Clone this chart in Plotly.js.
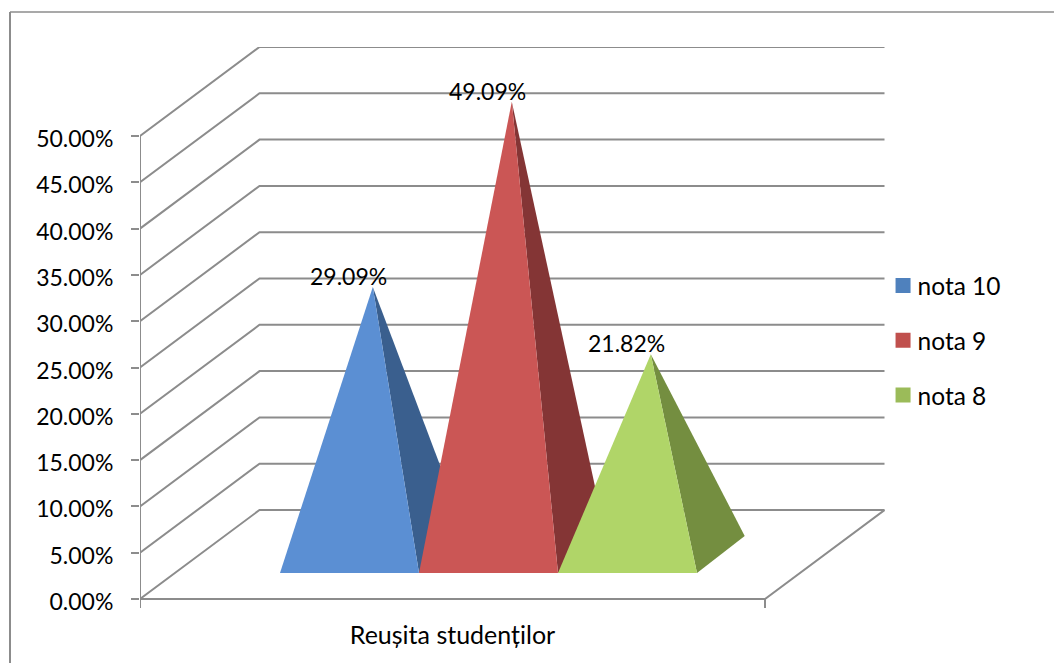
<!DOCTYPE html>
<html>
<head>
<meta charset="utf-8">
<script src="https://cdn.plot.ly/plotly-3.0.1.min.js"></script>
<style>html,body{margin:0;padding:0;background:#fff}#chart{width:1054px;height:663px}</style>
</head>
<body>
<div id="chart"></div>
<script>
// Data
const category = "Reușita studenților";
const seriesNames = ["nota 10", "nota 9", "nota 8"];
const seriesValues = [29.09, 49.09, 21.82];
const gridValues = [0, 5, 10, 15, 20, 25, 30, 35, 40, 45, 50];
const tickLabels = ["0.00%", "5.00%", "10.00%", "15.00%", "20.00%", "25.00%", "30.00%", "35.00%", "40.00%", "45.00%", "50.00%"];

// Styles
const legendColors = ["#4F81BD", "#C0504D", "#9BBB59"];
const frontColors = ["#5B8FD3", "#CB5655", "#B0D568"];
const sideColors = ["#3A5F8E", "#843535", "#748E40"];
const gridColor = "#8C8C8C";
const fontFamily = "Lato, 'Open Sans', sans-serif";
const numberSize = 23, legendSize = 24.5, categorySize = 25;

// Oblique projection of the 3D box (x: projection units, y: percent)
const floorWidth = 625, wallDx = 119.5, wallDy = 9.61;
const baseLeft = 140, baseWidth = 139, baseFrontY = 2.81, baseDx = 47.7, baseDy = 4.0, apexDx = 23.3, apexDy = 1.8;

const traces = [];
// grid: side wall + back wall lines
const gx = [], gy = [];
gridValues.forEach(v => {
  gx.push(0, wallDx, floorWidth + wallDx, null);
  gy.push(v, v + wallDy, v + wallDy, null);
});
// floor, axis and tick stubs
gx.push(0, floorWidth, floorWidth + wallDx, null, 0, 0, null, floorWidth, floorWidth);
gy.push(0, 0, wallDy, null, 50, -1, null, 0, -1);
traces.push({x: gx, y: gy, mode: "lines", line: {color: gridColor, width: 2}, showlegend: false, hoverinfo: "skip", cliponaxis: false});

// pyramids
seriesValues.forEach((v, i) => {
  const left = baseLeft + i * baseWidth, right = left + baseWidth;
  const apexX = left + baseWidth / 2 + apexDx, apexY = baseFrontY + apexDy + v;
  traces.push({x: [apexX, right, right + baseDx, apexX], y: [apexY, baseFrontY, baseFrontY + baseDy, apexY],
    mode: "lines", fill: "toself", fillcolor: sideColors[i], line: {width: 0}, showlegend: false, hoverinfo: "skip"});
  traces.push({x: [apexX, left, right, apexX], y: [apexY, baseFrontY, baseFrontY, apexY],
    mode: "lines", fill: "toself", fillcolor: frontColors[i], line: {width: 0}, showlegend: false, hoverinfo: "skip"});
});
// legend entries
seriesNames.forEach((n, i) => {
  traces.push({x: [null], y: [null], mode: "markers", name: n, legendgroup: n,
    marker: {symbol: "square", size: 15, color: legendColors[i]}});
});

const annotations = seriesValues.map((v, i) => ({
  x: baseLeft + i * baseWidth + baseWidth / 2 + apexDx,
  y: baseFrontY + apexDy + v,
  text: v.toFixed(2) + "%", showarrow: false, xshift: -24, yshift: 11,
  font: {family: fontFamily, size: numberSize, color: "#000"}
}));

const layout = {
  width: 1054, height: 663,
  margin: {l: 140, r: 169, t: 47, b: 55, pad: 0},
  paper_bgcolor: "#fff", plot_bgcolor: "#fff",
  font: {family: fontFamily, size: numberSize, color: "#000"},
  xaxis: {range: [0, 745], showgrid: false, zeroline: false, showline: false, ticks: "",
    tickmode: "array", tickvals: [floorWidth / 2], ticktext: [category], tickfont: {size: categorySize, family: fontFamily, color: "#000"}, ticklabelstandoff: 10, fixedrange: true},
  yaxis: {range: [-0.97, 59.61], showgrid: false, zeroline: false, showline: false,
    tickmode: "array", tickvals: gridValues, ticktext: tickLabels, ticks: "outside", ticklen: 8, tickwidth: 2, tickcolor: gridColor,
    tickfont: {size: numberSize, family: fontFamily, color: "#000"}, ticklabelstandoff: 13, ticklabelshift: 3, fixedrange: true},
  legend: {x: 0.99, xanchor: "left", y: 0.615, yanchor: "top", tracegroupgap: 20, font: {family: fontFamily, size: legendSize, color: "#000"}, bgcolor: "rgba(0,0,0,0)"},
  annotations: annotations,
  shapes: [
    {type: "line", xref: "paper", yref: "paper", x0: -0.1745, x1: 1.2268, y0: 1.0624, y1: 1.0624, line: {color: "#8C8C8C", width: 1.5}},
    {type: "line", xref: "paper", yref: "paper", x0: -0.1745, x1: -0.1745, y0: 1.0624, y1: -0.098, line: {color: "#8C8C8C", width: 2}}
  ],
  showlegend: true
};
Plotly.newPlot("chart", traces, layout, {displayModeBar: false, staticPlot: true}).then(() => {
  // reference legend keeps its swatches closer to the labels
  document.querySelectorAll(".legend .legendpoints").forEach(g => {
    g.setAttribute("transform", "translate(5.5,0)");
  });
});
</script>
</body>
</html>
